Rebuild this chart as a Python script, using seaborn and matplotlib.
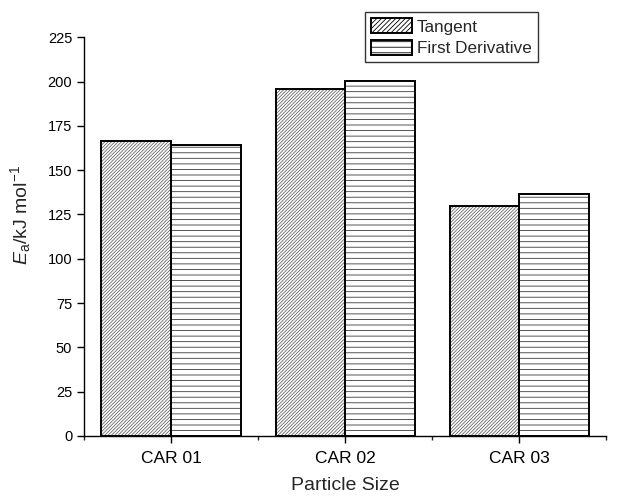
import pandas as pd
import seaborn as sns
import matplotlib.pyplot as plt
from matplotlib.patches import Rectangle
from matplotlib.ticker import FixedLocator

samples = ["CAR 01", "CAR 02", "CAR 03"]
methods = ["Tangent", "First Derivative"]
tangent = [166.5, 195.5, 130.0]
first_derivative = [164.0, 200.5, 136.5]

df = pd.DataFrame({
    "sample": samples * 2,
    "method": [methods[0]] * 3 + [methods[1]] * 3,
    "Ea": tangent + first_derivative,
})

sns.set_style("ticks")
plt.rcParams["font.family"] = ["Liberation Sans", "DejaVu Sans"]
plt.rcParams["mathtext.fontset"] = "custom"
plt.rcParams["mathtext.rm"] = "Liberation Sans"
plt.rcParams["mathtext.it"] = "Liberation Sans:italic"
plt.rcParams["hatch.linewidth"] = 0.6

fig = plt.figure(figsize=(6.18, 4.96), dpi=100)
ax = fig.add_axes([0.136, 0.121, 0.845, 0.804])

sns.barplot(data=df, x="sample", y="Ea", hue="method", hue_order=methods,
            order=samples, width=0.8, ax=ax, palette=["white", "white"],
            linewidth=0, saturation=1, legend=False)

hatches = {"Tangent": "//////////", "First Derivative": "---"}
hatch_cols = {"Tangent": "#6a6a6a", "First Derivative": "#3a3a3a"}
for container, m in zip(ax.containers, methods):
    for bar in container:
        bar.set_hatch(hatches[m])
        bar.set_edgecolor(hatch_cols[m])
        # black outline on top of the hatched bar
        ax.add_patch(Rectangle(bar.get_xy(), bar.get_width(), bar.get_height(),
                               fill=False, edgecolor="black", linewidth=1.4,
                               zorder=bar.get_zorder() + 0.1))

legend_hatches = {"Tangent": "///////", "First Derivative": "---"}
handles = [Rectangle((0, 0), 1, 1, facecolor="white", hatch=legend_hatches[m],
                     edgecolor="black", linewidth=1.4) for m in methods]
leg = ax.legend(handles, methods, loc="upper left",
                bbox_to_anchor=(0.538, 1.063), frameon=True,
                fancybox=False, edgecolor="black", fontsize=12.3,
                handlelength=2.4, handleheight=1.0, borderpad=0.35,
                labelspacing=0.3, handletextpad=0.3, borderaxespad=0)
leg.get_frame().set_linewidth(1.0)

ax.set_ylim(0, 225)
ax.set_xlim(-0.5, 2.5)
ax.set_yticks(range(0, 226, 25))
ax.xaxis.set_minor_locator(FixedLocator([-0.5, 0.5, 1.5, 2.5]))
ax.tick_params(axis="both", which="major", direction="out", length=5,
               width=1, color="black", labelcolor="black")
ax.tick_params(axis="y", labelsize=10.5)
ax.tick_params(axis="x", labelsize=12.5, pad=6)
ax.tick_params(axis="x", which="minor", direction="out", length=3, width=1)
for s in ["top", "right"]:
    ax.spines[s].set_visible(False)
for s in ["left", "bottom"]:
    ax.spines[s].set_linewidth(1.0)
    ax.spines[s].set_color("black")

ax.set_xlabel("Particle Size", fontsize=14, labelpad=8)
ax.set_ylabel(r"$\mathit{E}_{\mathrm{a}}$/kJ mol$^{-1}$", fontsize=14)
ax.yaxis.set_label_coords(-0.098, 0.554)

fig.savefig("out.png", dpi=100)
